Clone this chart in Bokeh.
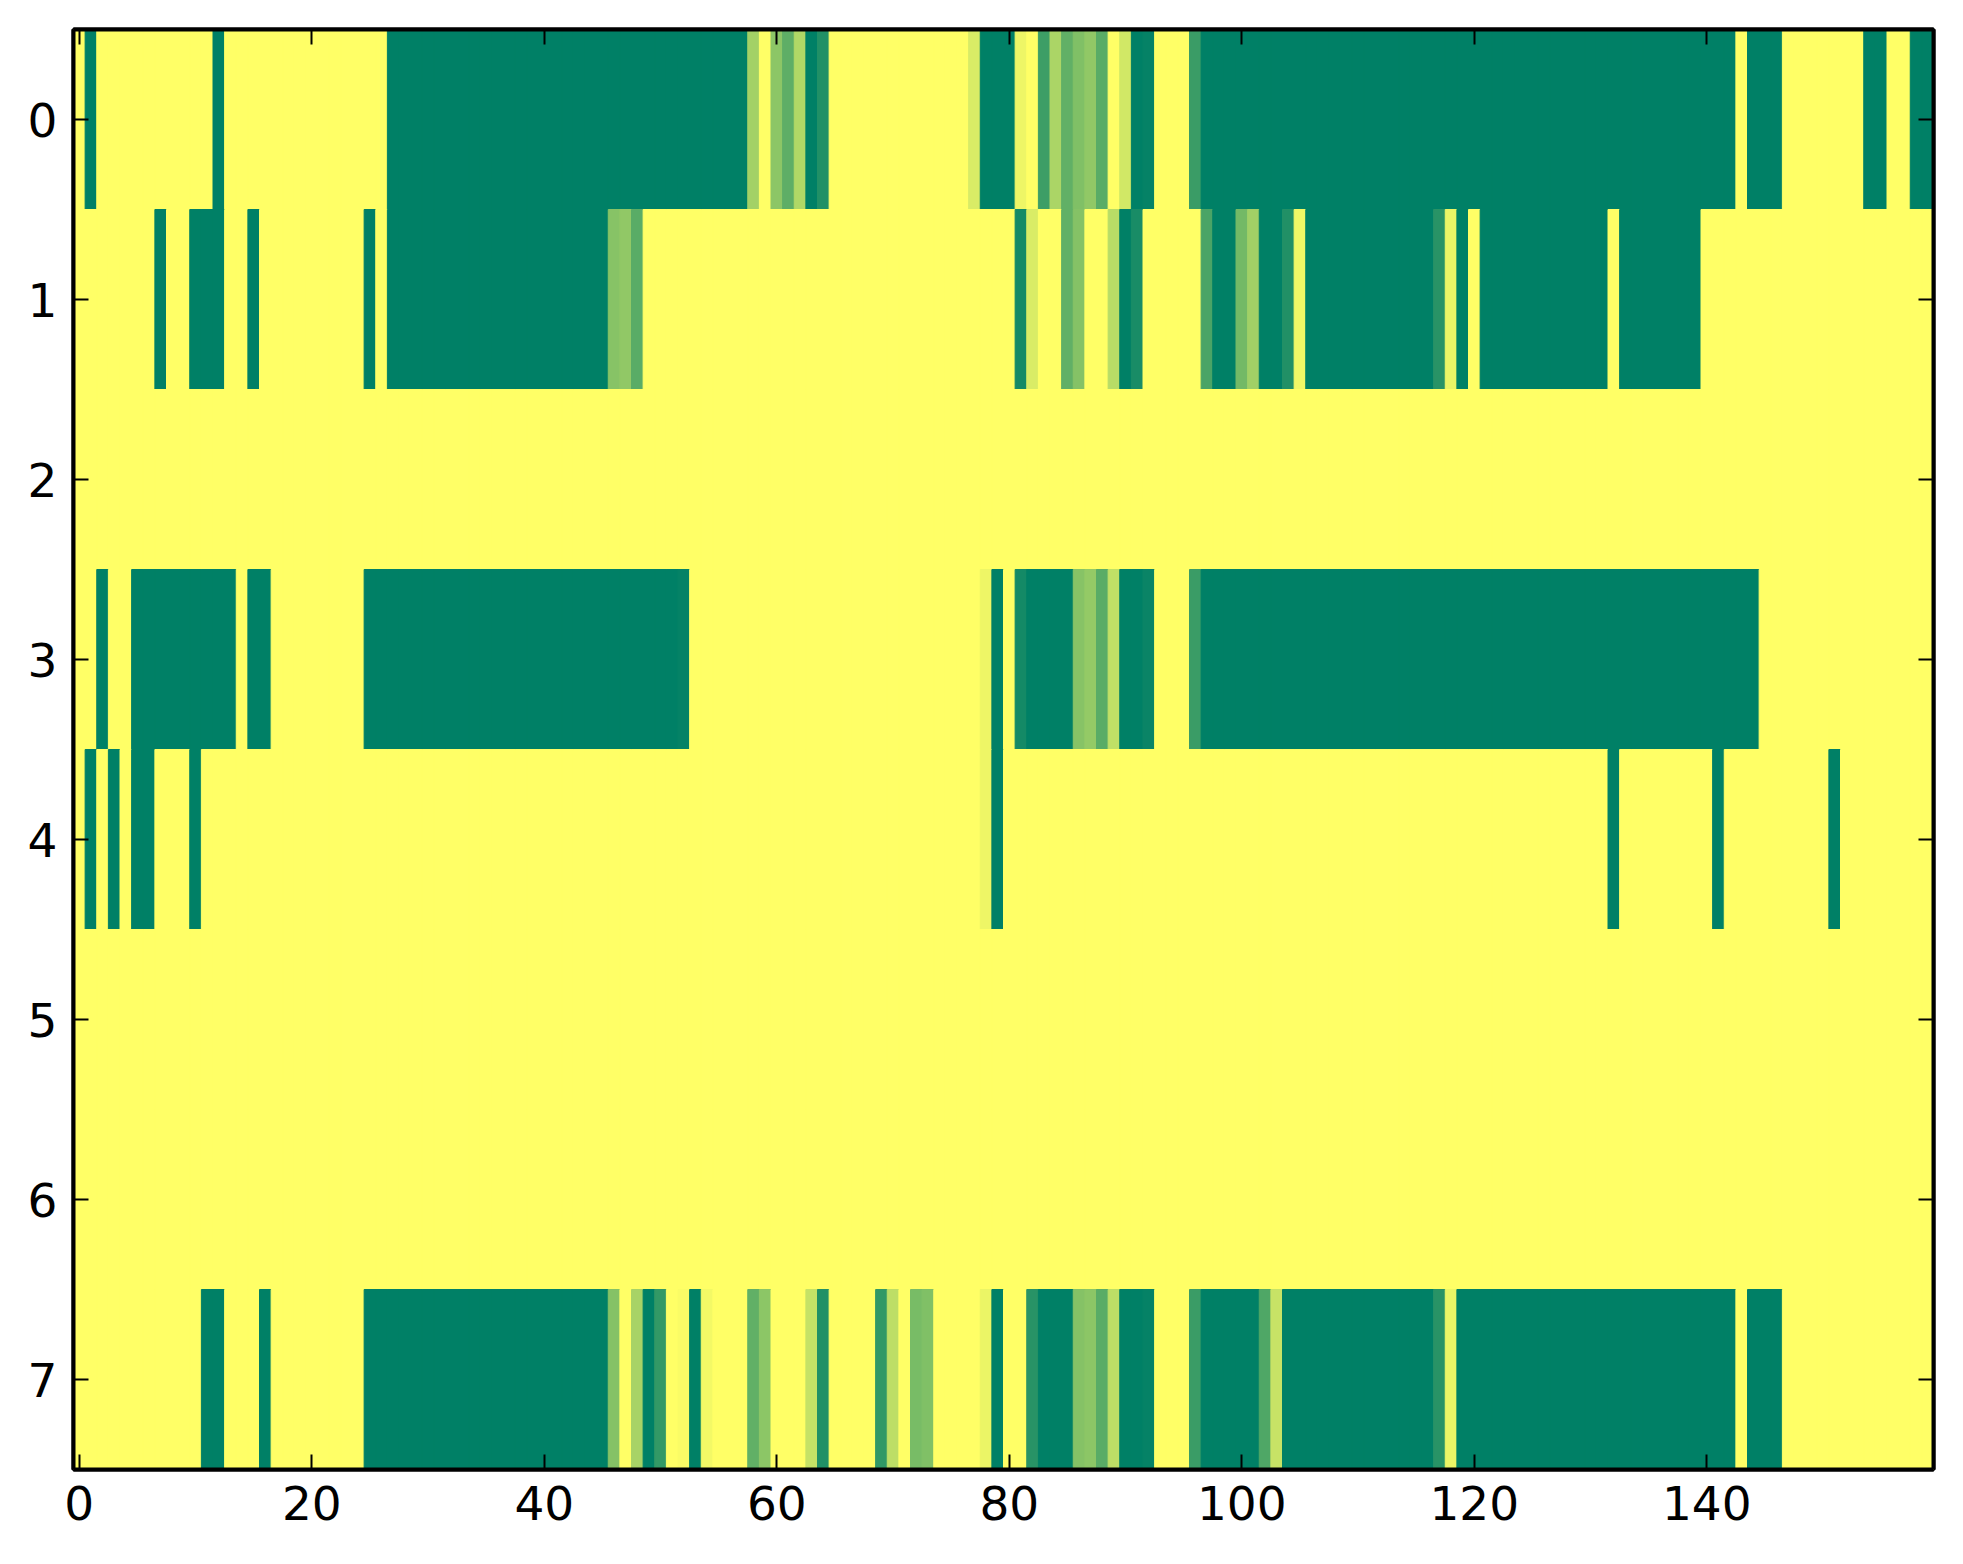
import numpy as np
from bokeh.plotting import figure
from bokeh.models import Range1d, LinearAxis, FixedTicker, LinearColorMapper, ColumnDataSource
from bokeh.transform import transform
from bokeh.embed import file_html
from bokeh.resources import INLINE

# ---- data: each row as runs of (value, number of consecutive columns) ----
row0 = [(1,1),(0,1),(1,10),(0,1),(1,14),(0,31),(0.64,1),(1,1),(0.55,1),(0.37,1),(0.69,1),(0,1),(0.13,1),
        (1,12),(0.85,1),(0,3),(0.93,1),(1,1),(0.24,1),(0.67,1),(0.38,1),(0.50,1),(0.57,1),(0.35,1),(1,1),
        (0.82,1),(0,1),(0.02,1),(1,3),(0.23,1),(0,46),(1,1),(0,3),(1,7),(0,2),(1,2),(0,2)]
row1 = [(1,7),(0,1),(1,2),(0,3),(1,2),(0,1),(1,9),(0,1),(1,1),(0,19),(0.53,1),(0.57,1),(0.35,1),(1,32),
        (0.08,1),(0.85,1),(1,2),(0.38,1),(0.52,1),(1,2),(0.72,1),(0,1),(0.10,1),(1,5),(0.29,1),(0,2),
        (0.45,1),(0.63,1),(0,2),(0.13,1),(0.94,1),(0,11),(0.16,1),(0.92,1),(0,1),(1,1),(0,11),(1,1),(0,7),(1,20)]
row2 = [(1,160)]
row3 = [(1,2),(0,1),(1,2),(0,9),(1,1),(0,2),(1,8),(0,27),(0.02,1),(1,25),(0.93,1),(0,1),(1,1),(0.08,1),
        (0,4),(0.53,1),(0.58,1),(0.35,1),(0.75,1),(0,2),(0.04,1),(1,3),(0.23,1),(0,48),(1,15)]
row4 = [(1,1),(0,1),(1,1),(0,1),(1,1),(0,2),(1,3),(0,1),(1,67),(0.93,1),(0,1),(1,52),(0,1),(1,8),(0,1),
        (1,9),(0,1),(1,8)]
row5 = [(1,160)]
row6 = [(1,160)]
row7 = [(1,11),(0,2),(1,3),(0,1),(1,8),(0,21),(0.52,1),(1,1),(0.66,1),(0,1),(0.20,1),(1,1),(0.98,1),(0,1),
        (0.95,1),(1,3),(0.38,1),(0.55,1),(1,3),(0.77,1),(0.13,1),(1,4),(0.19,1),(0.74,1),(1,1),(0.47,1),
        (0.50,1),(1,4),(0.92,1),(0,1),(1,2),(0.16,1),(0,3),(0.52,1),(0.55,1),(0.35,1),(0.74,1),(0,2),
        (0.02,1),(1,3),(0.23,1),(0,5),(0.31,1),(0.78,1),(0,13),(0.16,1),(0.92,1),(0,24),(1,1),(0,3),(1,13)]
rows = [row0, row1, row2, row3, row4, row5, row6, row7]

x_ticks = [0, 20, 40, 60, 80, 100, 120, 140]
y_ticks = [0, 1, 2, 3, 4, 5, 6, 7]
n_cols = 160

xs, ys, vs = [], [], []
for r, runs in enumerate(rows):
    c = 0
    for v, n in runs:
        for _ in range(n):
            xs.append(c)
            ys.append(r)
            vs.append(float(v))
            c += 1

src = ColumnDataSource(dict(x=xs, y=ys, v=vs))

# matplotlib "summer" colormap
palette = ["#%02x%02x%02x" % (int(round(255 * t)), int(round(255 * (0.5 + 0.5 * t))), 102)
           for t in np.linspace(0, 1, 256)]
mapper = LinearColorMapper(palette=palette, low=0, high=1)

p = figure(x_range=Range1d(-0.5, n_cols - 0.5), y_range=Range1d(len(rows) - 0.5, -0.5),
           frame_width=1860, frame_height=1440,
           min_border_left=73, min_border_top=29, min_border_right=20, min_border_bottom=80,
           output_backend="svg", toolbar_location=None,
           background_fill_color="white", border_fill_color="white")
p.grid.visible = False
p.outline_line_color = "black"
p.outline_line_width = 4

p.rect(x="x", y="y", width=1, height=1, source=src,
       fill_color=transform("v", mapper), line_color=transform("v", mapper),
       line_width=1, dilate=True)

bottom = p.below[0]
left = p.left[0]
bottom.ticker = FixedTicker(ticks=x_ticks)
left.ticker = FixedTicker(ticks=y_ticks)

top = LinearAxis(ticker=FixedTicker(ticks=x_ticks),
                 major_label_overrides={t: "" for t in x_ticks})
right = LinearAxis(ticker=FixedTicker(ticks=y_ticks),
                   major_label_overrides={t: "" for t in y_ticks})
p.add_layout(top, "above")
p.add_layout(right, "right")

for ax in [bottom, left, top, right]:
    ax.axis_line_color = "black"
    ax.axis_line_width = 4
    ax.major_tick_in = 15
    ax.major_tick_out = 0
    ax.major_tick_line_width = 2
    ax.major_tick_line_color = "black"
    ax.minor_tick_in = 0
    ax.minor_tick_out = 0
    ax.major_label_text_font = "DejaVu Sans"
    ax.major_label_text_font_size = "47px"
    ax.major_label_text_color = "black"
    ax.major_label_standoff = 16

for ax in [top, right]:
    ax.major_label_text_font_size = "1px"
    ax.major_label_standoff = 0

open("out.html", "w").write(file_html(p, INLINE))
